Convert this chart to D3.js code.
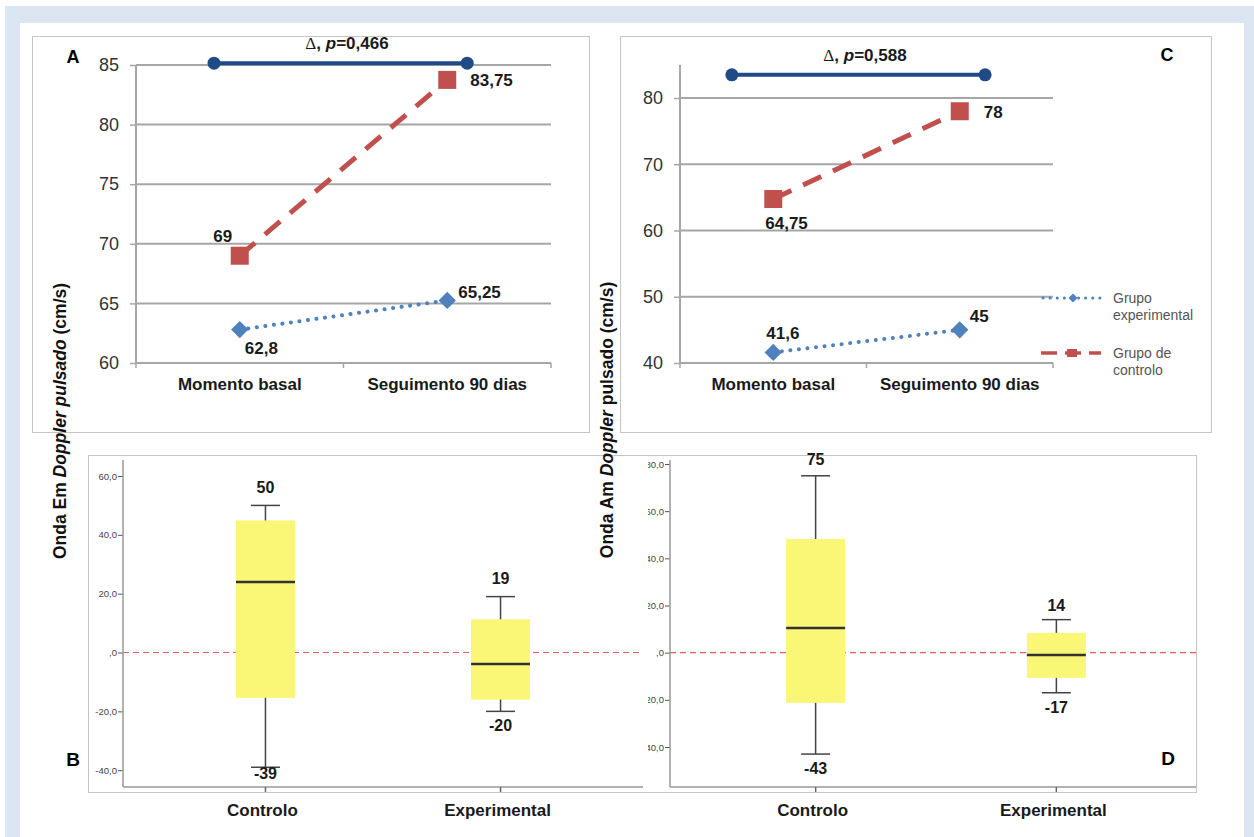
<!DOCTYPE html>
<html lang="pt">
<head>
<meta charset="UTF-8">
<title>Onda Em / Onda Am Doppler pulsado</title>
<script src="https://d3js.org/d3.v7.min.js"></script>
<style>
  body { margin: 0; background: #fff; }
  svg { display: block; font-family: Arial, "Liberation Sans", sans-serif; }
</style>
</head>
<body>
<svg id="fig" width="1254" height="837"></svg>
<script>
// --- dados ---
const momentos = ["Momento basal", "Seguimento 90 dias"];
const emControlo = [69, 83.75];
const emExperimental = [62.8, 65.25];
const amControlo = [64.75, 78];
const amExperimental = [41.6, 45];
const ticksEm = [60, 65, 70, 75, 80, 85];
const ticksAm = [40, 50, 60, 70, 80];
const pEm = "0,466";
const pAm = "0,588";

const grupos = ["Controlo", "Experimental"];
// [min, Q1, mediana, Q3, max]
const deltaEmControlo = [-39, -15.4, 24, 44.9, 50];
const deltaEmExperimental = [-20, -16, -3.9, 11.3, 19];
const deltaAmControlo = [-43, -21.3, 10.5, 48.2, 75];
const deltaAmExperimental = [-17, -10.7, -1, 8.4, 14];
const ticksDeltaEm = [-40, -20, 0, 20, 40, 60];
const ticksDeltaAm = [-40, -20, 0, 20, 40, 60, 80];

const svg = d3.select("#fig");
const BLUE = "#4f81bd", RED = "#c0504d", NAVY = "#1f4a86", GRID = "#a6a6a6", FRAME = "#c4c4c4";

// fundo
svg.append("rect").attr("x", 5).attr("y", 6).attr("width", 1249).attr("height", 831).attr("fill", "#dce6f2");
svg.append("rect").attr("x", 20).attr("y", 23).attr("width", 1224).attr("height", 814).attr("fill", "#fff");

function frame(x0, y0, x1, y1) {
  svg.append("rect").attr("x", x0 + 0.5).attr("y", y0 + 0.5)
    .attr("width", x1 - x0).attr("height", y1 - y0)
    .attr("fill", "none").attr("stroke", FRAME).attr("stroke-width", 1);
}

function deltaText(cx, cy, p) {
  const t = svg.append("text").attr("x", cx).attr("y", cy)
    .attr("text-anchor", "middle").attr("dominant-baseline", "central")
    .attr("font-size", 17).attr("fill", "#1a1a1a");
  t.append("tspan").attr("font-family", "'Liberation Serif', 'DejaVu Serif', serif").text("Δ");
  t.append("tspan").attr("font-weight", "bold").text(", ");
  t.append("tspan").attr("font-weight", "bold").attr("font-style", "italic").text("p");
  t.append("tspan").attr("font-weight", "bold").text("=" + p);
}

// --- painéis de linhas (A e C) ---
function linePanel(cfg) {
  const g = svg.append("g");
  const x = d3.scaleBand().domain(momentos).range([cfg.x0, cfg.x1]);
  const y = d3.scaleLinear().domain(cfg.domain).range([363, cfg.yTop]);
  const cx = d => x(d) + x.bandwidth() / 2;

  g.selectAll("line.grid").data(cfg.ticks).join("line")
    .attr("x1", cfg.x0).attr("x2", cfg.x1)
    .attr("y1", d => y(d)).attr("y2", d => y(d))
    .attr("stroke", GRID).attr("stroke-width", 2);

  const ay = g.append("g").attr("transform", `translate(${cfg.x0},0)`)
    .call(d3.axisLeft(y).tickValues(cfg.ticks).tickSize(6).tickPadding(11));
  ay.select(".domain").remove();
  ay.selectAll(".tick line").attr("stroke", GRID).attr("stroke-width", 1.5);
  ay.selectAll(".tick text").attr("font-size", 18).attr("fill", "#333")
    .attr("font-family", "Arial, 'Liberation Sans', sans-serif");
  g.append("line").attr("x1", cfg.x0).attr("x2", cfg.x0).attr("y1", cfg.axisTop).attr("y2", 363)
    .attr("stroke", GRID).attr("stroke-width", 2);

  const xt = [cfg.x0, cfg.x0 + x.bandwidth(), cfg.x1];
  g.selectAll("line.xt").data(xt).join("line")
    .attr("x1", d => d).attr("x2", d => d).attr("y1", 363).attr("y2", 368)
    .attr("stroke", GRID).attr("stroke-width", 1.5);
  g.selectAll("text.cat").data(momentos).join("text")
    .attr("x", cx).attr("y", 384).attr("text-anchor", "middle").attr("dominant-baseline", "central")
    .attr("font-size", 17).attr("font-weight", "bold").attr("fill", "#1a1a1a").text(d => d);

  // barra de comparação
  const bx = cfg.bracket.map(f => cfg.x0 + f * (cfg.x1 - cfg.x0));
  g.append("line").attr("x1", bx[0]).attr("x2", bx[1]).attr("y1", y(cfg.bracketY)).attr("y2", y(cfg.bracketY))
    .attr("stroke", NAVY).attr("stroke-width", 4);
  g.selectAll("circle.b").data(bx).join("circle")
    .attr("cx", d => d).attr("cy", y(cfg.bracketY)).attr("r", 6.5).attr("fill", NAVY);
  deltaText(cfg.deltaX, cfg.deltaY, cfg.p);

  const line = d3.line().x((d, i) => cx(momentos[i])).y(d => y(d));
  g.append("path").datum(cfg.exp).attr("d", line).attr("fill", "none")
    .attr("stroke", BLUE).attr("stroke-width", 4).attr("stroke-linecap", "round")
    .attr("stroke-dasharray", "0.1 8.5");
  g.append("path").datum(cfg.ctrl).attr("d", line).attr("fill", "none")
    .attr("stroke", RED).attr("stroke-width", 5).attr("stroke-dasharray", "20 13");

  const diamond = d3.symbol().type(d3.symbolSquare).size(150)();
  g.selectAll("path.dia").data(cfg.exp).join("path")
    .attr("d", diamond).attr("fill", BLUE)
    .attr("transform", (d, i) => `translate(${cx(momentos[i])},${y(d)}) rotate(45)`);
  g.selectAll("rect.sq").data(cfg.ctrl).join("rect")
    .attr("x", (d, i) => cx(momentos[i]) - 9).attr("y", d => y(d) - 9)
    .attr("width", 18).attr("height", 18).attr("fill", RED);

  const fmt = v => String(v).replace(".", ",");
  const labels = cfg.ctrl.map((v, i) => ({ v, i, o: cfg.ctrlOff[i] }))
    .concat(cfg.exp.map((v, i) => ({ v, i, o: cfg.expOff[i] })));
  g.selectAll("text.val").data(labels).join("text")
    .attr("x", d => cx(momentos[d.i]) + d.o[0]).attr("y", d => y(d.v) + d.o[1])
    .attr("text-anchor", d => d.o[2]).attr("dominant-baseline", "central")
    .attr("font-size", 17).attr("font-weight", "bold").attr("fill", "#1a1a1a")
    .text(d => fmt(d.v));
}

frame(32, 36, 589, 432);
frame(620, 36, 1211, 432);

linePanel({
  x0: 136, x1: 551, yTop: 65, axisTop: 65, domain: [60, 85], ticks: ticksEm,
  ctrl: emControlo, exp: emExperimental, p: pEm,
  bracket: [0.188, 0.798], bracketY: 85.15, deltaX: 347, deltaY: 43,
  ctrlOff: [[-17, -19, "middle"], [23, 1, "start"]],
  expOff: [[5, 19, "start"], [11, -8, "start"]]
});
linePanel({
  x0: 680, x1: 1053, yTop: 98, axisTop: 65, domain: [40, 80], ticks: ticksAm,
  ctrl: amControlo, exp: amExperimental, p: pAm,
  bracket: [0.139, 0.818], bracketY: 83.5, deltaX: 865, deltaY: 55,
  ctrlOff: [[-8, 24, "start"], [24, 1, "start"]],
  expOff: [[-7, -19, "start"], [10, -13, "start"]]
});

svg.append("text").attr("x", 73).attr("y", 57).attr("text-anchor", "middle").attr("dominant-baseline", "central")
  .attr("font-size", 18).attr("font-weight", "bold").text("A");
svg.append("text").attr("x", 1167).attr("y", 55).attr("text-anchor", "middle").attr("dominant-baseline", "central")
  .attr("font-size", 18).attr("font-weight", "bold").text("C");

// legenda
const lg = svg.append("g");
lg.append("line").attr("x1", 1043).attr("x2", 1101).attr("y1", 298).attr("y2", 298)
  .attr("stroke", BLUE).attr("stroke-width", 3).attr("stroke-linecap", "round").attr("stroke-dasharray", "0.1 7");
lg.append("path").attr("d", d3.symbol().type(d3.symbolSquare).size(40)())
  .attr("transform", "translate(1073,298) rotate(45)").attr("fill", BLUE);
lg.append("line").attr("x1", 1041).attr("x2", 1101).attr("y1", 353).attr("y2", 353)
  .attr("stroke", RED).attr("stroke-width", 3.5).attr("stroke-dasharray", "16 8");
lg.append("rect").attr("x", 1067).attr("y", 349).attr("width", 10).attr("height", 8).attr("fill", RED);
[["Grupo", "experimental", 298], ["Grupo de", "controlo", 353]].forEach(([a, b, yy]) => {
  const t = lg.append("text").attr("x", 1113).attr("y", yy).attr("dominant-baseline", "central")
    .attr("font-size", 14).attr("fill", "#555");
  t.append("tspan").attr("x", 1113).text(a);
  t.append("tspan").attr("x", 1113).attr("dy", 17).text(b);
});

// --- painéis de caixas (B e D) ---
const fmtDelta = v => v === 0 ? ",0" : v.toFixed(1).replace(".", ",");

function boxPanel(cfg) {
  const g = svg.append("g");
  const x = d3.scalePoint().domain(grupos).range(cfg.xr).padding(cfg.pad);
  const y = d3.scaleLinear().domain(cfg.domain).range(cfg.yr);

  const holder = g.append("g");
  if (cfg.clip) holder.attr("clip-path", `url(#${cfg.clip})`);
  const ay = holder.append("g").attr("transform", `translate(${cfg.axisX},0)`)
    .call(d3.axisLeft(y).tickValues(cfg.ticks).tickSize(5).tickPadding(1).tickFormat(fmtDelta));
  ay.select(".domain").remove();
  ay.selectAll(".tick line").attr("stroke", "#555").attr("stroke-width", 1);
  ay.selectAll(".tick text").attr("font-size", 9.5).attr("fill", "#444")
    .attr("font-family", "Arial, 'Liberation Sans', sans-serif");

  g.append("line").attr("x1", cfg.axisX).attr("x2", cfg.axisX).attr("y1", 460).attr("y2", 787)
    .attr("stroke", "#999").attr("stroke-width", 1.5);
  g.append("line").attr("x1", cfg.axisX).attr("x2", cfg.right).attr("y1", 787).attr("y2", 787)
    .attr("stroke", "#999").attr("stroke-width", 1.5);
  g.selectAll("line.xt").data(grupos).join("line")
    .attr("x1", d => x(d)).attr("x2", d => x(d)).attr("y1", 787).attr("y2", 792)
    .attr("stroke", "#666").attr("stroke-width", 1.5);

  const boxes = cfg.stats.map((s, i) => ({ s, g: grupos[i], o: cfg.off[i] }));
  const bw = 59, cw = 29;
  boxes.forEach(b => {
    const c = x(b.g), [mn, q1, md, q3, mx] = b.s;
    g.append("line").attr("x1", c).attr("x2", c).attr("y1", y(mx)).attr("y2", y(mn))
      .attr("stroke", "#444").attr("stroke-width", 1.5);
    g.append("rect").attr("x", c - bw / 2).attr("y", y(q3)).attr("width", bw).attr("height", y(q1) - y(q3))
      .attr("fill", "#faf776");
    g.append("line").attr("x1", c - bw / 2).attr("x2", c + bw / 2).attr("y1", y(md)).attr("y2", y(md))
      .attr("stroke", "#333").attr("stroke-width", 2.5);
    [mn, mx].forEach(v => g.append("line").attr("x1", c - cw / 2).attr("x2", c + cw / 2)
      .attr("y1", y(v)).attr("y2", y(v)).attr("stroke", "#444").attr("stroke-width", 1.5));
    g.append("text").attr("x", c).attr("y", y(mx) + b.o[0]).attr("text-anchor", "middle")
      .attr("dominant-baseline", "central").attr("font-size", 16).attr("font-weight", "bold")
      .attr("fill", "#1a1a1a").text(mx);
    g.append("text").attr("x", c).attr("y", y(mn) + b.o[1]).attr("text-anchor", "middle")
      .attr("dominant-baseline", "central").attr("font-size", 16).attr("font-weight", "bold")
      .attr("fill", "#1a1a1a").text(mn);
  });

  g.insert("line", ":first-child").attr("x1", cfg.axisX).attr("x2", cfg.right).attr("y1", y(0)).attr("y2", y(0))
    .attr("stroke", "#e65c5c").attr("stroke-width", 1.2).attr("stroke-dasharray", "6 4");

  g.selectAll("text.cat").data(grupos).join("text")
    .attr("x", d => x(d) - 3).attr("y", 810).attr("text-anchor", "middle").attr("dominant-baseline", "central")
    .attr("font-size", 17).attr("font-weight", "bold").attr("fill", "#1a1a1a").text(d => d);
}

// B
svg.append("line").attr("x1", 88).attr("x2", 1196).attr("y1", 455.5).attr("y2", 455.5).attr("stroke", FRAME);
svg.append("line").attr("x1", 88.5).attr("x2", 88.5).attr("y1", 455).attr("y2", 792).attr("stroke", FRAME);
svg.append("line").attr("x1", 88).attr("x2", 646).attr("y1", 792.5).attr("y2", 792.5).attr("stroke", FRAME);
boxPanel({
  xr: [123, 643], pad: 0.606, axisX: 123, right: 643,
  domain: [-40, 60], yr: [770.2, 476], ticks: ticksDeltaEm,
  stats: [deltaEmControlo, deltaEmExperimental],
  off: [[-18, 6], [-18, 14]]
});
svg.append("text").attr("x", 73).attr("y", 759).attr("text-anchor", "middle").attr("dominant-baseline", "central")
  .attr("font-size", 19).attr("font-weight", "bold").text("B");

// D (por cima de B)
svg.append("rect").attr("x", 645).attr("y", 456).attr("width", 551).attr("height", 336).attr("fill", "#fff");
svg.append("line").attr("x1", 645).attr("x2", 1196).attr("y1", 792.5).attr("y2", 792.5).attr("stroke", FRAME);
svg.append("line").attr("x1", 1196.5).attr("x2", 1196.5).attr("y1", 455).attr("y2", 793).attr("stroke", FRAME);
svg.append("defs").append("clipPath").attr("id", "clipD")
  .append("rect").attr("x", 648).attr("y", 440).attr("width", 600).attr("height", 380);
boxPanel({
  xr: [676, 1196], pad: 0.58, axisX: 670, right: 1196,
  domain: [-40, 80], yr: [747, 464], ticks: ticksDeltaAm, clip: "clipD",
  stats: [deltaAmControlo, deltaAmExperimental],
  off: [[-16, 14], [-14, 15]]
});
svg.append("text").attr("x", 1168).attr("y", 758).attr("text-anchor", "middle").attr("dominant-baseline", "central")
  .attr("font-size", 19).attr("font-weight", "bold").text("D");

// títulos dos eixos Y
function yLabel(cx, cy, parts) {
  const t = svg.append("text").attr("transform", `translate(${cx},${cy}) rotate(-90)`)
    .attr("text-anchor", "middle").attr("dominant-baseline", "central")
    .attr("font-size", 17.5).attr("font-weight", "bold").attr("fill", "#111");
  parts.forEach(([s, it]) => t.append("tspan").attr("font-style", it ? "italic" : "normal").text(s));
}
yLabel(60, 421, [["Onda Em ", false], ["Doppler pulsado", true], [" (cm/s)", false]]);
yLabel(607, 420, [["Onda Am ", false], ["Doppler", true], [" pulsado (cm/s)", false]]);
</script>
</body>
</html>
